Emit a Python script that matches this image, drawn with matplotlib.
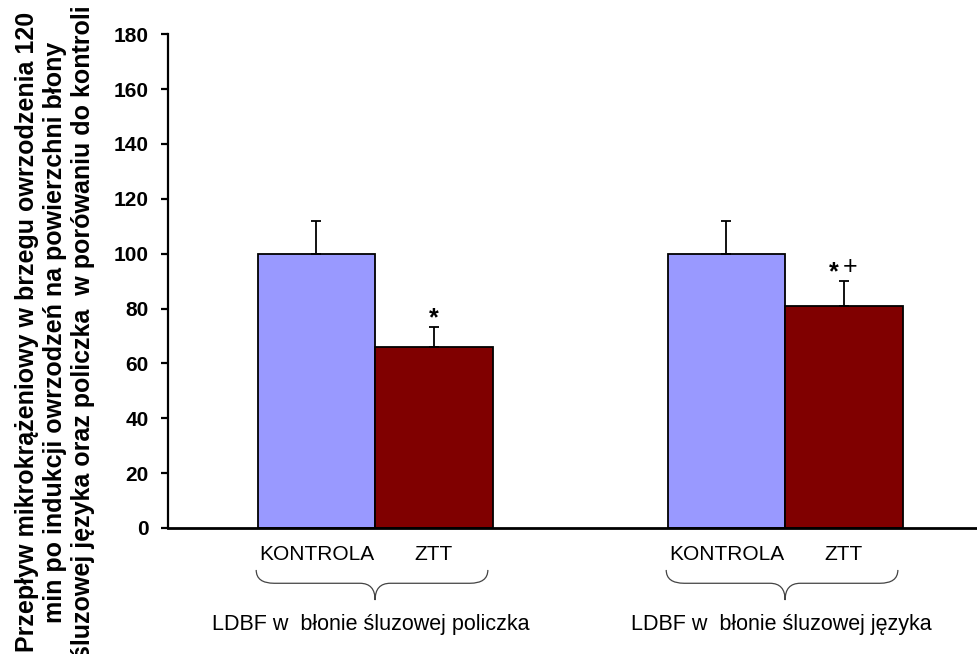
import numpy as np
import matplotlib.pyplot as plt
from matplotlib.path import Path
from matplotlib.patches import PathPatch
import matplotlib.transforms as mtransforms

plt.rcParams['font.family'] = ['Liberation Sans', 'DejaVu Sans']

# data
groups = ['LDBF w  błonie śluzowej policzka', 'LDBF w  błonie śluzowej języka']
bar_names = ['KONTROLA', 'ZTT']
kontrola = [100, 100]
kontrola_err = [12, 12]
ztt = [66, 81]
ztt_err = [7.3, 9.1]
sig_star = ['*', '*']
sig_plus = ['', '+']

ylabel = ('Przepływ mikrokrążeniowy w brzegu owrzodzenia 120\n'
          'min po indukcji owrzodzeń na powierzchni błony\n'
          'śluzowej języka oraz policzka  w porówaniu do kontroli')

fig = plt.figure(figsize=(9.77, 6.54), dpi=100)
ax = fig.add_axes([0.172, 0.1927, 0.828, 0.755])

x = np.arange(len(groups))
w = 0.2866

ax.bar(x - w/2, kontrola, w, color='#9999FF', edgecolor='black', linewidth=1.3)
ax.bar(x + w/2, ztt, w, color='#800000', edgecolor='black', linewidth=1.3)

# upper error bars only
ax.errorbar(x - w/2, kontrola, yerr=[np.zeros(2), kontrola_err], fmt='none',
            ecolor='black', elinewidth=1.3, capsize=3.6, capthick=1.3)
ax.errorbar(x + w/2, ztt, yerr=[np.zeros(2), ztt_err], fmt='none',
            ecolor='black', elinewidth=1.3, capsize=3.6, capthick=1.3)

# significance marks above ZTT bars
for i in range(len(groups)):
    top = ztt[i] + ztt_err[i]
    if sig_plus[i]:
        ax.text(x[i] + w/2 - 0.025, top + 0.6, sig_star[i], ha='center', va='baseline',
                fontsize=18, fontweight='bold')
        ax.text(x[i] + w/2 + 0.014, top + 2.6, sig_plus[i], ha='center', va='baseline',
                fontsize=18)
    else:
        ax.text(x[i] + w/2, top + 0.6, sig_star[i], ha='center', va='baseline',
                fontsize=18, fontweight='bold')

ax.set_xlim(-0.505, 1.468)
ax.set_ylim(0, 180)
ax.set_yticks(np.arange(0, 181, 20))
for lab in ax.get_yticklabels():
    lab.set_fontweight('bold')
ax.tick_params(axis='y', labelsize=15, width=1.6, length=5, pad=9)

ticks = np.concatenate([x - w/2, x + w/2])
ax.set_xticks(ticks)
ax.set_xticklabels([bar_names[0]] * len(groups) + [bar_names[1]] * len(groups))
ax.tick_params(axis='x', length=0, labelsize=15, pad=12)

ax.spines['top'].set_visible(False)
ax.spines['right'].set_visible(False)
ax.spines['left'].set_linewidth(1.6)
ax.spines['bottom'].set_linewidth(2)

# curly braces under each group
trans = mtransforms.blended_transform_factory(ax.transData, ax.transAxes)
y_top, y_mid, y_tip = -0.085, -0.112, -0.146
r = 0.044
for xc in x:
    x0, x1 = xc - 0.29, xc + 0.275
    verts = [(x0, y_top), (x0, y_mid), (x0 + r, y_mid),
             (xc - 0.037, y_mid),
             (xc, y_mid), (xc, y_tip),
             (xc, y_mid), (xc + 0.037, y_mid),
             (x1 - r, y_mid),
             (x1, y_mid), (x1, y_top)]
    codes = [Path.MOVETO, Path.CURVE3, Path.CURVE3,
             Path.LINETO,
             Path.CURVE3, Path.CURVE3,
             Path.CURVE3, Path.CURVE3,
             Path.LINETO,
             Path.CURVE3, Path.CURVE3]
    ax.add_patch(PathPatch(Path(verts, codes), fill=False, edgecolor='#444444',
                           linewidth=0.9, transform=trans, clip_on=False))

for i, g in enumerate(groups):
    ax.text(x[i] - 0.01, -0.196, g, transform=trans, ha='center', va='center',
            fontsize=15.5)

fig.text(0.056, 0.492, ylabel, rotation=90, ha='center', va='center',
         fontsize=18, fontweight='bold', linespacing=1.2)

fig.savefig('out.png', dpi=100)
